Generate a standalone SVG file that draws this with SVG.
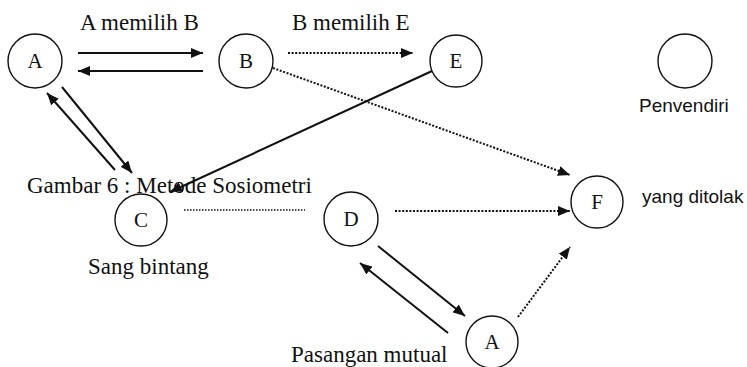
<svg xmlns="http://www.w3.org/2000/svg" width="747" height="367" viewBox="0 0 747 367">
<style>
.n{fill:#fff;stroke:#111;stroke-width:1.4}
.nt{font-family:"Liberation Serif",serif;font-size:21px;fill:#111;text-anchor:middle}
.lbl{font-family:"Liberation Serif",serif;font-size:23px;fill:#111}
.sl{font-family:"Liberation Sans",sans-serif;font-size:19px;fill:#111}
.s{stroke:#111;stroke-width:2;fill:none}
.d{stroke:#111;stroke-width:2;fill:none;stroke-dasharray:2 1.6}
.d1{stroke:#111;stroke-width:1.3;fill:none;stroke-dasharray:1.5 1.5}
</style>
<defs>
<marker id="ah" viewBox="0 0 12 10" refX="12" refY="5" markerWidth="12" markerHeight="10" markerUnits="userSpaceOnUse" orient="auto">
<path d="M0,0 L12,5 L0,10 z" fill="#111"/>
</marker>
</defs>
<g id="labels">
<text class="lbl" x="80" y="30">A memilih B</text>
<text class="lbl" x="292" y="30">B memilih E</text>
<text class="sl" x="639" y="112">Penvendiri</text>
<text class="sl" x="642" y="203">yang ditolak</text>
<text class="lbl" x="27" y="193">Gambar 6 : Metode Sosiometri</text>
<text class="lbl" x="88" y="274">Sang bintang</text>
<text class="lbl" x="291" y="362">Pasangan mutual</text>
</g>
<g id="connectors">
<line class="s" x1="78" y1="53" x2="203" y2="53" marker-end="url(#ah)"/>
<line class="s" x1="203" y1="71" x2="78" y2="71" marker-end="url(#ah)"/>
<line class="d" x1="288" y1="53" x2="413" y2="53" marker-end="url(#ah)"/>
<line class="d" x1="273" y1="68" x2="570" y2="175" marker-end="url(#ah)"/>
<line class="s" x1="432" y1="71" x2="170" y2="192" marker-end="url(#ah)"/>
<line class="s" x1="62" y1="87" x2="132" y2="173" marker-end="url(#ah)"/>
<line class="s" x1="115" y1="170" x2="47" y2="93" marker-end="url(#ah)"/>
<line class="d1" x1="184" y1="210" x2="305" y2="210"/>
<line class="d" x1="395" y1="211" x2="570" y2="211" marker-end="url(#ah)"/>
<line class="s" x1="378" y1="246" x2="465" y2="316" marker-end="url(#ah)"/>
<line class="s" x1="448" y1="333" x2="360" y2="263" marker-end="url(#ah)"/>
<line class="d" x1="518" y1="317" x2="570" y2="247" marker-end="url(#ah)"/>
</g>
<g id="nodeA"><circle class="n" cx="35" cy="61" r="27"/><text class="nt" x="35" y="68">A</text></g>
<g id="nodeB"><circle class="n" cx="246" cy="61" r="27"/><text class="nt" x="246" y="68">B</text></g>
<g id="nodeE"><circle class="n" cx="456" cy="61" r="26"/><text class="nt" x="456" y="68">E</text></g>
<g id="nodePenvendiri"><circle class="n" cx="685" cy="61" r="27"/></g>
<g id="nodeF"><circle class="n" cx="597" cy="202" r="26"/><text class="nt" x="597" y="209">F</text></g>
<g id="nodeC"><circle class="n" cx="141" cy="220" r="26"/><text class="nt" x="141" y="227">C</text></g>
<g id="nodeD"><circle class="n" cx="351" cy="219" r="27"/><text class="nt" x="351" y="226">D</text></g>
<g id="nodeA2"><circle class="n" cx="492" cy="342" r="26"/><text class="nt" x="492" y="349">A</text></g>
</svg>
